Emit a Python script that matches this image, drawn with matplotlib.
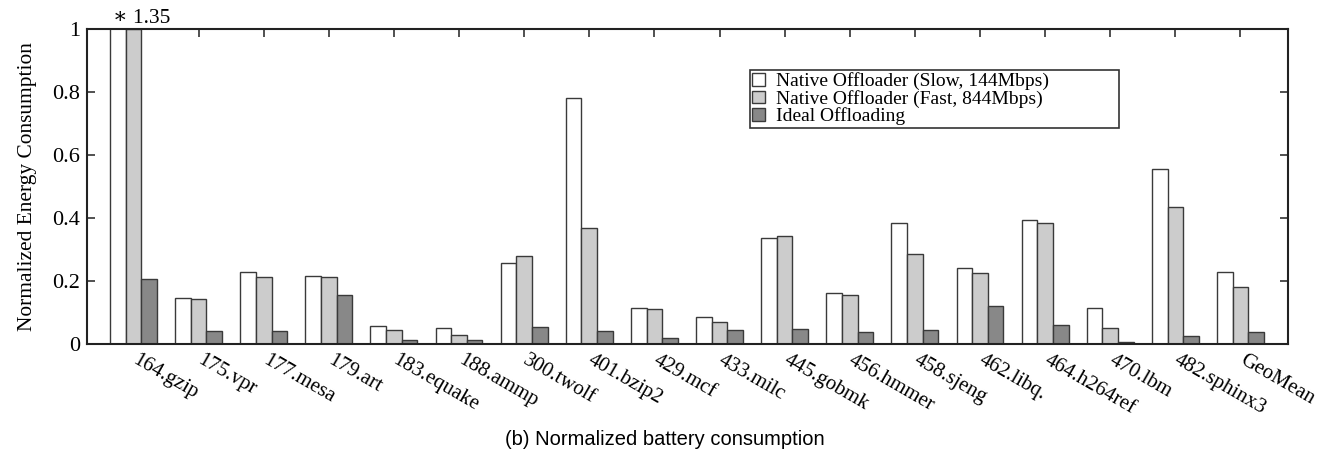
import matplotlib
matplotlib.use("Agg")
import matplotlib.pyplot as plt
import numpy as np

categories = ["164.gzip", "175.vpr", "177.mesa", "179.art", "183.equake", "188.ammp",
              "300.twolf", "401.bzip2", "429.mcf", "433.milc", "445.gobmk", "456.hmmer",
              "458.sjeng", "462.libq.", "464.h264ref", "470.lbm", "482.sphinx3", "GeoMean"]
slow = [1.35, 0.147, 0.228, 0.216, 0.056, 0.050, 0.258, 0.782, 0.115, 0.087, 0.335, 0.161,
        0.384, 0.240, 0.393, 0.114, 0.557, 0.228]
fast = [1.00, 0.143, 0.213, 0.212, 0.043, 0.030, 0.280, 0.367, 0.112, 0.069, 0.343, 0.156,
        0.286, 0.225, 0.385, 0.052, 0.434, 0.181]
ideal = [0.207, 0.041, 0.041, 0.155, 0.012, 0.012, 0.053, 0.042, 0.018, 0.044, 0.049, 0.037,
         0.043, 0.121, 0.059, 0.006, 0.025, 0.039]
series_names = ["Native Offloader (Slow, 144Mbps)", "Native Offloader (Fast, 844Mbps)", "Ideal Offloading"]
yticks = [0, 0.2, 0.4, 0.6, 0.8, 1]
ytick_labels = ["0", "0.2", "0.4", "0.6", "0.8", "1"]

serif = ["Liberation Serif", "DejaVu Serif"]
fig = plt.figure(figsize=(13.3, 4.71), dpi=100)
ax = fig.add_axes([0.0654, 0.2696, 0.9030, 0.6688])

x = np.arange(len(categories))
w = 0.24
colors = ["#ffffff", "#cccccc", "#888888"]
edge = "#3a3a3a"
for i, (vals, c, name) in enumerate(zip([slow, fast, ideal], colors, series_names)):
    ax.bar(x + (i - 1) * w, vals, w, color=c, edgecolor=edge, linewidth=1.0, label=name, zorder=2)

ax.set_xlim(-0.714, len(categories) - 1 + 0.73)
ax.set_ylim(0, 1)
ax.set_yticks(yticks)
ax.set_yticklabels(ytick_labels, fontfamily=serif, fontsize=16)
ax.set_xticks(x)
ax.set_xticklabels([])
ax.tick_params(axis="both", direction="in", length=5.5, width=1.2, color="#333333",
               top=True, right=True, bottom=False)
ax.tick_params(axis="y", pad=5)

for s in ax.spines.values():
    s.set_color("#222222")
    s.set_linewidth(1.5)

for xi, lab in zip(x, categories):
    ax.text(xi + 0.08, -0.022, lab, rotation=-30, rotation_mode="anchor", ha="left", va="top",
            fontfamily=serif, fontsize=15, transform=ax.get_xaxis_transform())

ax.set_ylabel("Normalized Energy Consumption", fontfamily=serif, fontsize=15.4, labelpad=11)

ax.text(x[0] - 1.33 * w, 1.019, "\u2217 1.35", fontfamily=serif, fontsize=15.5, ha="left",
        va="baseline", transform=ax.get_xaxis_transform())

leg = ax.legend(loc="upper left", bbox_to_anchor=(0.552, 0.689, 0.307, 0.181), mode="expand",
                prop={"family": serif, "size": 14},
                frameon=True, fancybox=False, edgecolor="#333333", framealpha=1,
                handlelength=0.66, handleheight=0.62, handletextpad=0.55, labelspacing=-0.02,
                borderpad=0.12, borderaxespad=0)
leg.get_frame().set_linewidth(1.2)

fig.text(0.5, 0.066, "(b) Normalized battery consumption", ha="center", va="center",
         fontfamily=["Liberation Sans", "DejaVu Sans"], fontsize=14.5)

fig.savefig("out.png", dpi=100)
